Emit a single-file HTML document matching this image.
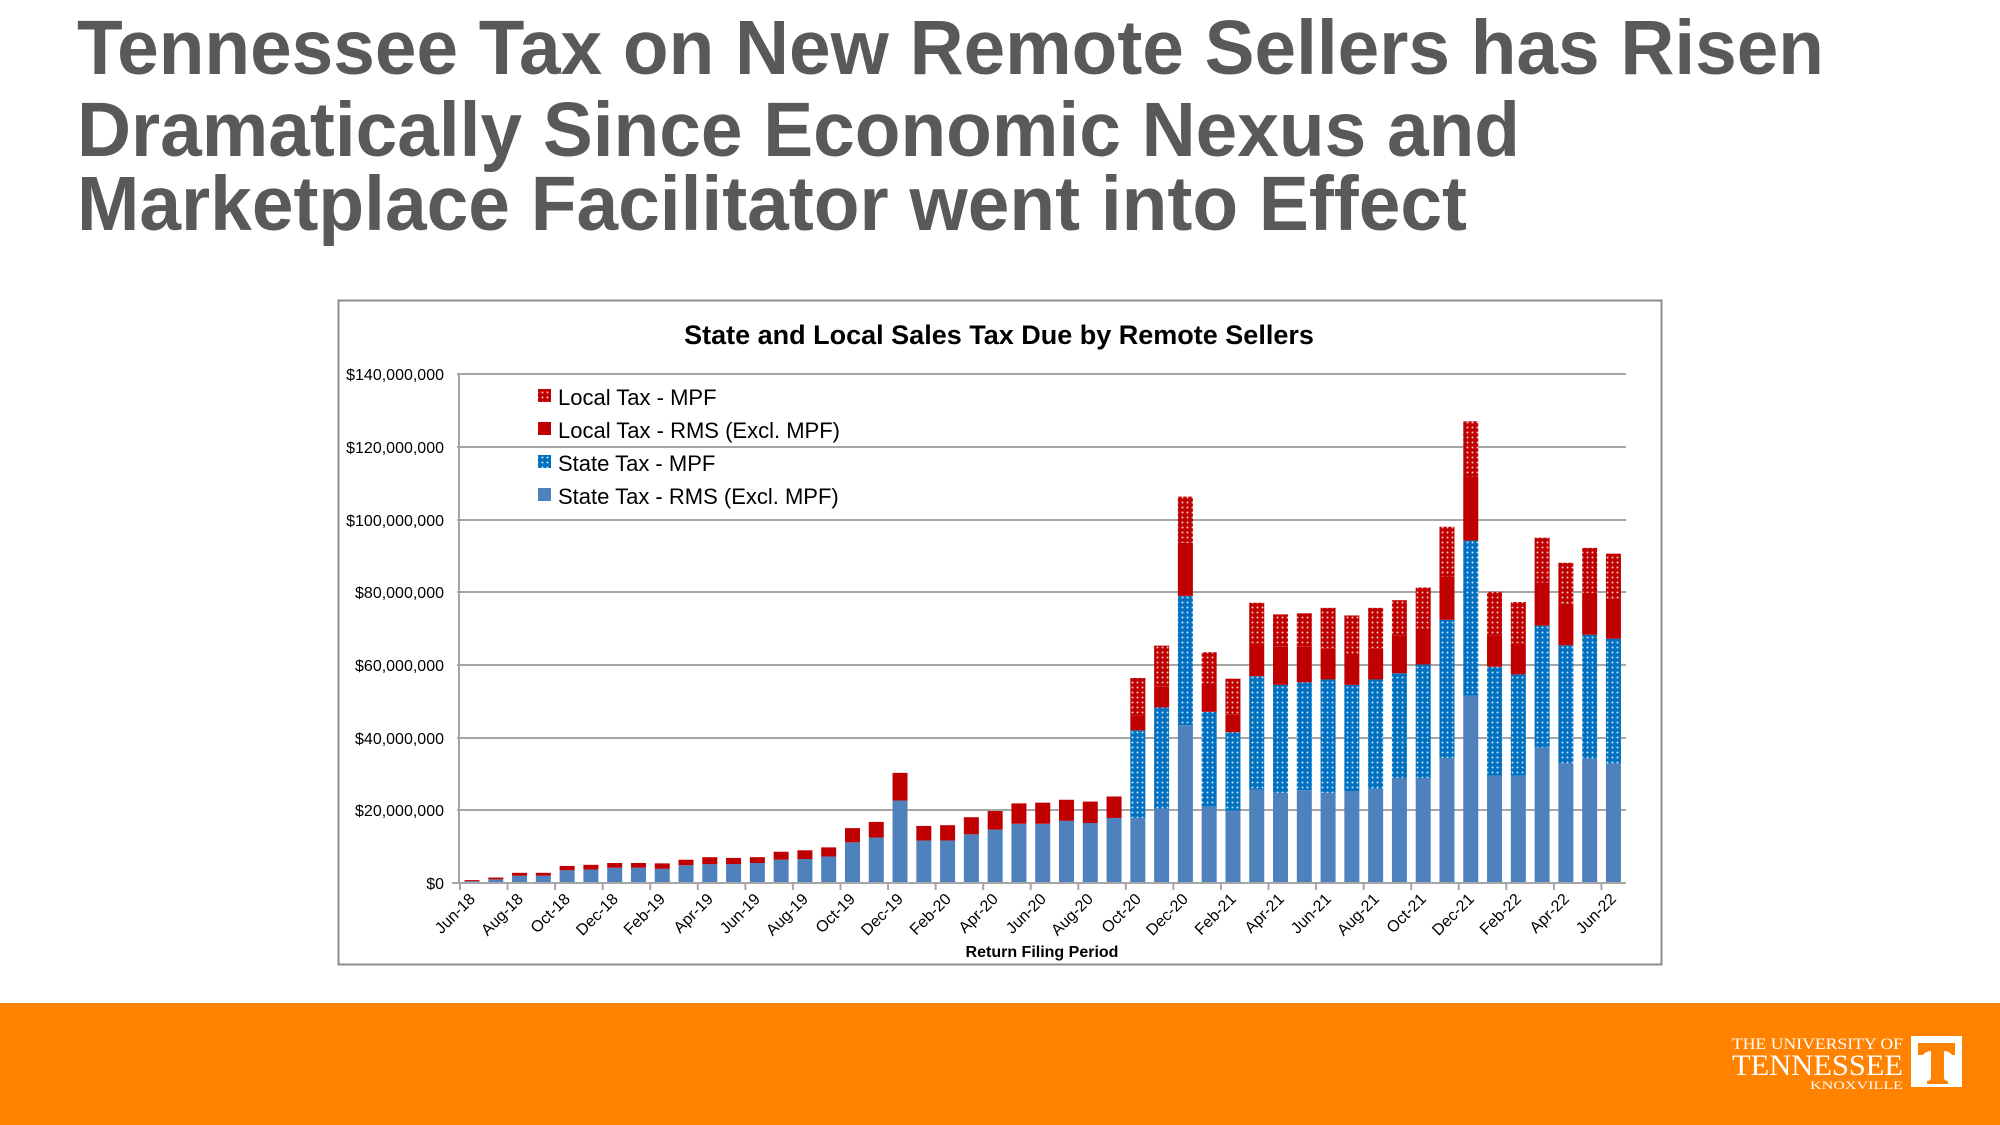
<!DOCTYPE html>
<html><head><meta charset="utf-8"><style>html,body{margin:0;padding:0;background:#fff}svg{display:block}</style></head>
<body>
<svg id="s" width="2000" height="1125" viewBox="0 0 2000 1125" xmlns="http://www.w3.org/2000/svg" font-family="Liberation Sans, sans-serif">
<defs>
<pattern id="bd" width="5" height="5" patternUnits="userSpaceOnUse"><rect width="5" height="5" fill="#0070c0"/><circle cx="2.5" cy="2.5" r="1" fill="#cfe6f7"/></pattern>
<pattern id="rd" width="5" height="5" patternUnits="userSpaceOnUse"><rect width="5" height="5" fill="#c00000"/><circle cx="2.5" cy="2.5" r="1" fill="#f4c9c9"/></pattern>
</defs>
<g fill="#595959" font-weight="bold" font-size="77">
<text x="77" y="74" textLength="1747" lengthAdjust="spacingAndGlyphs">Tennessee Tax on New Remote Sellers has Risen</text>
<text x="77" y="156" textLength="1443" lengthAdjust="spacingAndGlyphs">Dramatically Since Economic Nexus and</text>
<text x="77" y="230" textLength="1390" lengthAdjust="spacingAndGlyphs">Marketplace Facilitator went into Effect</text>
</g>
<rect x="338.5" y="300.5" width="1323" height="664" fill="#fff" stroke="#8c8c8c" stroke-width="2"/>
<text x="999" y="344" text-anchor="middle" font-weight="bold" font-size="27" fill="#000">State and Local Sales Tax Due by Remote Sellers</text>
<g stroke="#a6a6a6" stroke-width="2">
<line x1="457" x2="1626" y1="374" y2="374"/><line x1="457" x2="1626" y1="447" y2="447"/><line x1="457" x2="1626" y1="520" y2="520"/><line x1="457" x2="1626" y1="592" y2="592"/><line x1="457" x2="1626" y1="665" y2="665"/><line x1="457" x2="1626" y1="738" y2="738"/><line x1="457" x2="1626" y1="810" y2="810"/>
<line x1="459" x2="459" y1="374" y2="883"/>
</g>
<g font-size="16" fill="#000" text-anchor="end">
<text x="444" y="380">$140,000,000</text><text x="444" y="453">$120,000,000</text><text x="444" y="526">$100,000,000</text><text x="444" y="598">$80,000,000</text><text x="444" y="671">$60,000,000</text><text x="444" y="744">$40,000,000</text><text x="444" y="816">$20,000,000</text><text x="444" y="889">$0</text>
</g>
<g id="bars"></g>
<line x1="452" x2="1626" y1="883" y2="883" stroke="#a6a6a6" stroke-width="2"/>
<g id="ticks" stroke="#a6a6a6" stroke-width="2"></g>
<g font-size="16" fill="#000" text-anchor="end">
<text transform="translate(476,900) rotate(-45)">Jun-18</text>
<text transform="translate(524,900) rotate(-45)">Aug-18</text>
<text transform="translate(571,900) rotate(-45)">Oct-18</text>
<text transform="translate(619,900) rotate(-45)">Dec-18</text>
<text transform="translate(666,900) rotate(-45)">Feb-19</text>
<text transform="translate(714,900) rotate(-45)">Apr-19</text>
<text transform="translate(761,900) rotate(-45)">Jun-19</text>
<text transform="translate(809,900) rotate(-45)">Aug-19</text>
<text transform="translate(856,900) rotate(-45)">Oct-19</text>
<text transform="translate(904,900) rotate(-45)">Dec-19</text>
<text transform="translate(952,900) rotate(-45)">Feb-20</text>
<text transform="translate(999,900) rotate(-45)">Apr-20</text>
<text transform="translate(1047,900) rotate(-45)">Jun-20</text>
<text transform="translate(1094,900) rotate(-45)">Aug-20</text>
<text transform="translate(1142,900) rotate(-45)">Oct-20</text>
<text transform="translate(1189,900) rotate(-45)">Dec-20</text>
<text transform="translate(1237,900) rotate(-45)">Feb-21</text>
<text transform="translate(1285,900) rotate(-45)">Apr-21</text>
<text transform="translate(1332,900) rotate(-45)">Jun-21</text>
<text transform="translate(1380,900) rotate(-45)">Aug-21</text>
<text transform="translate(1427,900) rotate(-45)">Oct-21</text>
<text transform="translate(1475,900) rotate(-45)">Dec-21</text>
<text transform="translate(1522,900) rotate(-45)">Feb-22</text>
<text transform="translate(1570,900) rotate(-45)">Apr-22</text>
<text transform="translate(1617,900) rotate(-45)">Jun-22</text>
</g>
<text x="1042" y="957" text-anchor="middle" font-weight="bold" font-size="16" fill="#000">Return Filing Period</text>
<g font-size="22" fill="#000">
<rect x="538" y="389" width="13" height="13" fill="url(#rd)"/><text x="558" y="405">Local Tax - MPF</text>
<rect x="538" y="422" width="13" height="13" fill="#c00000"/><text x="558" y="438">Local Tax - RMS (Excl. MPF)</text>
<rect x="538" y="455" width="13" height="13" fill="url(#bd)"/><text x="558" y="471">State Tax - MPF</text>
<rect x="538" y="488" width="13" height="13" fill="#4f81bd"/><text x="558" y="504">State Tax - RMS (Excl. MPF)</text>
</g>
<rect x="0" y="1003" width="2000" height="122" fill="#ff8200"/>
<g fill="#fff" font-family="Liberation Serif, serif">
<text x="1732" y="1049" font-size="16" textLength="171" lengthAdjust="spacingAndGlyphs">THE UNIVERSITY OF</text>
<text x="1732" y="1075" font-size="30" textLength="171" lengthAdjust="spacingAndGlyphs">TENNESSEE</text>
<text x="1810" y="1089" font-size="12" textLength="93" lengthAdjust="spacingAndGlyphs">KNOXVILLE</text>
</g>
<rect x="1911" y="1036" width="51" height="51" fill="#fff"/>
<path d="M1918 1043 h37 v12 h-3 q-3 -4 -8 -4 v26 q0 4 4 4 v3 h-21 v-3 q4 0 4 -4 v-26 q-5 0 -8 4 h-5 z" fill="#ff8200"/>
</svg>
<script>
var d=[[0.5,0,0.3,0],[1,0,0.5,0],[2,0,0.8,0],[2,0,0.8,0],[3.5,0,1.2,0],[3.7,0,1.3,0],[4.2,0,1.3,0],[4.2,0,1.3,0],[3.9,0,1.5,0],[4.9,0,1.5,0],[5.2,0,1.9,0],[5.2,0,1.7,0],[5.5,0,1.6,0],[6.4,0,2.2,0],[6.6,0,2.4,0],[7.3,0,2.5,0],[11.2,0,3.9,0],[12.5,0,4.3,0],[22.7,0,7.6,0],[11.7,0,4,0],[11.7,0,4.2,0],[13.4,0,4.7,0],[14.7,0,5.1,0],[16.3,0,5.6,0],[16.3,0,5.8,0],[17.1,0,5.8,0],[16.5,0,5.9,0],[17.9,0,5.9,0],
[17.9,42,46,56.4],[20.5,48.3,54,65.3],[43.4,79,93.6,106.3],[21,47.1,55,63.5],[19.9,41.5,46.4,56.2],[25.7,56.9,66,77.1],[24.8,54.5,65,73.9],[25.5,55.2,65,74.2],[24.8,56,64.6,75.7],[25.3,54.5,63,73.6],[25.9,56,64.6,75.7],[28.9,57.7,68,77.8],[28.9,60.1,70,81.3],[34.4,72.4,84.2,98],[51.5,94.2,111.7,127],[29.5,59.5,68,80.1],[29.5,57.4,66,77.3],[37.3,70.8,82.7,95],[32.9,65.4,76.8,88.1],[34.2,68.3,79.8,92.2],[32.9,67.2,78.3,90.6]];
var ns="http://www.w3.org/2000/svg",g=document.getElementById("bars"),t=document.getElementById("ticks"),k=3.635;
function r(x,a,b,f){if(b<=a)return;var e=document.createElementNS(ns,"rect");e.setAttribute("x",x);e.setAttribute("width",15);e.setAttribute("y",883-b*k);e.setAttribute("height",(b-a)*k);e.setAttribute("fill",f);g.appendChild(e);}
d.forEach(function(v,i){var c=472+i*23.78,x=c-7.5,sr=v[0];
if(v[1]==0){r(x,0,sr,"#4f81bd");r(x,sr,sr+v[2],"#c00000");}
else{r(x,0,sr,"#4f81bd");r(x,sr,v[1],"url(#bd)");r(x,v[1],v[2],"#c00000");r(x,v[2],v[3],"url(#rd)");}});
for(var i=0;i<25;i++){var x=460+i*2*23.78;var l=document.createElementNS(ns,"line");l.setAttribute("x1",x);l.setAttribute("x2",x);l.setAttribute("y1",883);l.setAttribute("y2",890);t.appendChild(l);}
</script>
</body></html>
